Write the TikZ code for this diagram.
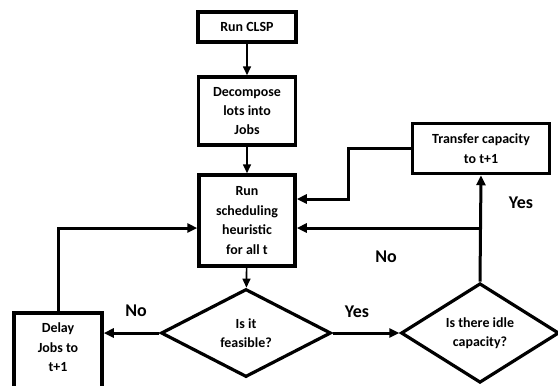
\documentclass[tikz,border=0pt]{standalone}
\usepackage{fontspec}
\setmainfont{Carlito}
\usetikzlibrary{shapes.geometric, positioning, arrows.meta}

\tikzset{
  boxtext/.style={align=center, inner sep=0pt, font=\fontsize{14}{19.5}\selectfont\bfseries},
  box/.style={boxtext, draw, line width=3.5bp},
  decision/.style={boxtext, draw, diamond, line width=3.2bp},
  flow/.style={line width=1.6bp, -{Triangle[length=9bp,width=8bp]}},
  flowthick/.style={line width=3bp, -{Triangle[length=10bp,width=9bp]}},
  answer/.style={inner sep=0pt, font=\fontsize{18}{20}\selectfont\bfseries}
}

\begin{document}
\begin{tikzpicture}[x=1bp,y=-1bp]
        \useasboundingbox (0,0) rectangle (558,385);

        % ==========================================
        % Main column
        % ==========================================
        \node[box, minimum width=98bp, minimum height=30bp] (clsp) at (247,27) {Run CLSP};
        \node[box, minimum width=97bp, minimum height=68bp] (decomp) at (247,111) {Decompose\\lots into\\Jobs};
        \node[box, minimum width=96bp, minimum height=91bp] (sched) at (247,220.5) {Run\\scheduling\\heuristic\\for all t};

        % ==========================================
        % Decisions
        % ==========================================
        \node[decision, minimum width=170bp, minimum height=88bp] (feas) at (246,333) {Is it\\feasible?};
        \node[decision, minimum width=158bp, minimum height=92bp] (idle) at (480,333) {Is there idle\\capacity?};

        % ==========================================
        % Side boxes
        % ==========================================
        \node[box, minimum width=137bp, minimum height=50bp] (transfer) at (481,148.5) {Transfer capacity\\to t+1};
        % Delay box runs off the bottom edge
        \node[box, anchor=north, minimum width=88bp, minimum height=100bp] (delay) at (58,311) {};
        \node[boxtext, below=12bp of delay.north] {Delay\\Jobs to\\t+1};

        % ==========================================
        % Connectors
        % ==========================================
        \draw[flow] (clsp) -- (decomp);
        \draw[flow] (decomp) -- (sched);
        \draw[flow] (sched) -- (feas);

        \draw[flowthick] (feas.west) -- (feas.west -| delay.east);
        \draw[flowthick] (feas.east) -- (idle.west);
        \draw[flowthick] (idle.north) -- (transfer.south);

        % back into the heuristic
        \coordinate (branch) at (481,228);
        \draw[flowthick] (branch) -- (branch -| sched.east);
        \coordinate (bend) at (348,199);
        \draw[flowthick] (transfer.west) -| (bend) -- (bend -| sched.east);
        \draw[flowthick] (delay.north) |- ([yshift=-7.5bp]sched.west);

        % ==========================================
        % Answers
        % ==========================================
        \node[answer] (feasno) at (136,311) {No};
        \node[answer] (feasyes) at (357,312) {Yes};
        \node[answer] (idleno) at (386,257) {No};
        \node[answer] (idleyes) at (521,203) {Yes};

    \end{tikzpicture}
\end{document}
